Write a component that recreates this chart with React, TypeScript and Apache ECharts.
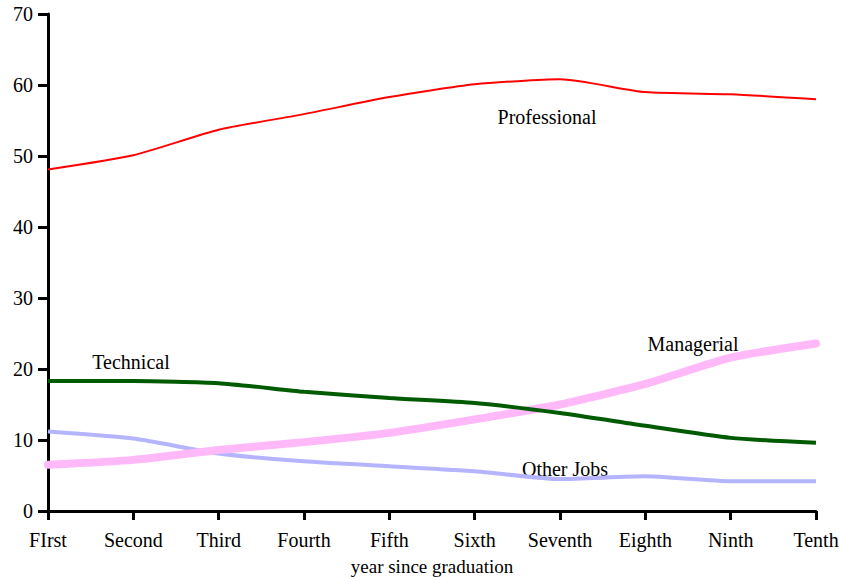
import React, { useEffect, useRef } from "react";
import * as echarts from "echarts";

const categories = ["FIrst", "Second", "Third", "Fourth", "Fifth", "Sixth", "Seventh", "Eighth", "Ninth", "Tenth"];
const professional = [48.1, 50.1, 53.7, 55.9, 58.3, 60.1, 60.8, 59.0, 58.7, 58.0];
const technical = [18.3, 18.3, 18.0, 16.8, 15.9, 15.2, 13.8, 12.0, 10.3, 9.6];
const managerial = [6.5, 7.2, 8.6, 9.7, 11.0, 12.9, 15.0, 17.9, 21.6, 23.6];
const otherJobs = [11.2, 10.2, 8.1, 7.0, 6.3, 5.6, 4.5, 4.9, 4.2, 4.2];
const yTicks = { min: 0, max: 70, interval: 10 };

const FONT = "'Liberation Serif', 'Times New Roman', serif";
const FS = 20;

export default function App() {
  const ref = useRef<HTMLDivElement>(null);
  useEffect(() => {
    if (!ref.current) return;
    const chart = echarts.init(ref.current, null, { renderer: "svg" });
    const txt = (text: string, x: number, y: number) => ({
      type: "text",
      x,
      y,
      style: { text, font: `${FS}px ${FONT}`, fill: "#000", textAlign: "center", textVerticalAlign: "middle" },
    });
    chart.setOption({
      animation: false,
      backgroundColor: "#fff",
      grid: { left: 48, right: 25, top: 14, bottom: 66, containLabel: false, outerBoundsMode: "none" },
      xAxis: {
        type: "category",
        data: categories,
        boundaryGap: false,
        name: "year since graduation",
        nameLocation: "middle",
        nameGap: 46,
        nameTextStyle: { fontFamily: FONT, fontSize: FS - 1, color: "#000" },
        axisLine: { lineStyle: { color: "#000", width: 3 } },
        axisTick: { show: true, length: 9, lineStyle: { color: "#000", width: 3 } },
        axisLabel: { fontFamily: FONT, fontSize: FS, color: "#000", margin: 19 },
        splitLine: { show: false },
      },
      yAxis: {
        type: "value",
        min: yTicks.min,
        max: yTicks.max,
        interval: yTicks.interval,
        axisLine: { show: true, lineStyle: { color: "#000", width: 3 } },
        axisTick: { show: true, length: 10, lineStyle: { color: "#000", width: 3 } },
        axisLabel: { fontFamily: FONT, fontSize: FS, color: "#000", margin: 15 },
        splitLine: { show: false },
      },
      series: [
        {
          name: "Other Jobs",
          type: "line",
          data: otherJobs,
          smooth: 0.2,
          symbol: "none",
          lineStyle: { color: "#b4b4ff", width: 4 },
          z: 2,
        },
        {
          name: "Managerial",
          type: "line",
          data: managerial,
          smooth: 0.2,
          symbol: "none",
          lineStyle: { color: "#ffb8f8", width: 8, cap: "round" },
          z: 3,
        },
        {
          name: "Technical",
          type: "line",
          data: technical,
          smooth: 0.2,
          symbol: "none",
          lineStyle: { color: "#005a00", width: 4 },
          z: 4,
        },
        {
          name: "Professional",
          type: "line",
          data: professional,
          smooth: 0.2,
          symbol: "none",
          lineStyle: { color: "#ff0000", width: 2 },
          z: 5,
        },
      ],
      graphic: [
        txt("Professional", 547, 117),
        txt("Technical", 131, 362),
        txt("Managerial", 693, 344),
        txt("Other Jobs", 565, 469),
      ],
    });
    return () => chart.dispose();
  }, []);
  return (
    <div
      ref={ref}
      style={{ position: "fixed", left: 0, top: 0, width: 841, height: 577, background: "#fff" }}
    />
  );
}
